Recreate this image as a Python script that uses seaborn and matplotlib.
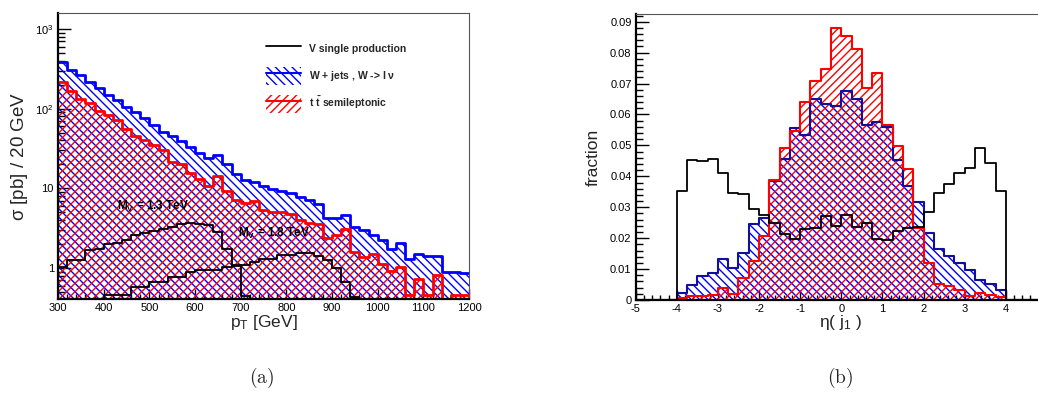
import numpy as np
import seaborn as sns
import matplotlib
matplotlib.use('Agg')
import matplotlib.pyplot as plt
from matplotlib.patches import Patch
from matplotlib.lines import Line2D
from matplotlib.ticker import MultipleLocator, LogLocator, NullFormatter

sns.set_theme(style='white')
plt.rcParams['font.family'] = ['Liberation Sans', 'DejaVu Sans']
plt.rcParams['mathtext.fontset'] = 'custom'
plt.rcParams['mathtext.rm'] = 'Liberation Sans'
plt.rcParams['mathtext.bf'] = 'Liberation Sans:bold'
plt.rcParams['mathtext.default'] = 'regular'
plt.rcParams['hatch.linewidth'] = 1.0

# (a) pT of leading jet, 20 GeV bins from 300 to 1200
pt_edges = np.arange(300, 1201, 20)
pt_wjets = [380, 305, 266, 213, 181, 150, 128, 104, 90, 77, 63, 51, 46, 39, 33,
            28, 24, 26, 20, 15.2, 12.8, 11.9, 10.6, 9.7, 9.4, 8.7, 7.7, 7.1, 6.3, 4.3,
            4.25, 4.7, 3.25, 3.0, 2.6, 2.24, 1.73, 2.05, 1.30, 1.50, 1.43, 1.43, 0.89, 0.90, 0.88]
pt_ttbar = [213, 168, 132, 117, 94, 82, 71, 56, 46, 40.6, 34.5, 30.5, 21.3, 20, 15.5,
            13.2, 10.6, 14.1, 9.25, 7.1, 6.55, 6.9, 5.4, 5.05, 5.05, 4.8, 4.06, 3.7, 3.6, 2.42,
            2.58, 3.05, 1.6, 1.38, 1.5, 1.12, 0.93, 1.04, 0.46, 0.74, 0.46, 0.83, 0, 0.46, 0.46]
pt_v13 = [1.02, 1.28, 1.28, 1.68, 1.76, 2.0, 2.04, 2.28, 2.58, 2.72, 2.93, 3.05, 3.28, 3.62, 3.65,
          3.6, 3.45, 2.84, 1.76, 1.05, 0.45, 0, 0, 0, 0, 0, 0, 0, 0, 0,
          0, 0, 0, 0, 0, 0, 0, 0, 0, 0, 0, 0, 0, 0, 0]
pt_v18 = [0, 0, 0, 0, 0, 0.46, 0.46, 0.46, 0.58, 0.58, 0.67, 0.67, 0.78, 0.78, 0.90,
          0.94, 0.94, 0.94, 1.04, 1.09, 1.09, 1.2, 1.32, 1.32, 1.45, 1.45, 1.55, 1.55, 1.41, 1.26,
          0.99, 0.67, 0.43, 0, 0, 0, 0, 0, 0, 0, 0, 0, 0, 0, 0]

# (b) eta of leading jet, 0.25 bins from -5 to 5
eta_edges = np.arange(-5, 5.001, 0.25)
eta_wjets = [0, 0, 0, 0,
             0.0022, 0.0049, 0.0078, 0.0088, 0.0132, 0.0102, 0.0153, 0.0246, 0.0264, 0.0385,
             0.0456, 0.0556, 0.0534, 0.0650, 0.0633, 0.0626, 0.0677, 0.0649, 0.0566, 0.0577,
             0.0561, 0.0453, 0.0368, 0.0318, 0.0217, 0.0164, 0.0141, 0.0119, 0.0096, 0.0066,
             0.0053, 0.0032,
             0, 0, 0, 0]
eta_ttbar = [0, 0, 0, 0,
             0.0008, 0.0013, 0.0013, 0.0016, 0.0038, 0.0018, 0.0070, 0.0125, 0.0207, 0.0388,
             0.0491, 0.0545, 0.0642, 0.0709, 0.0748, 0.0881, 0.0855, 0.0812, 0.0685, 0.0734,
             0.0566, 0.0499, 0.0423, 0.0232, 0.0121, 0.0052, 0.0045, 0.0033, 0.0012, 0.0024,
             0.0016, 0.0009,
             0, 0, 0, 0]
eta_vsingle = [0, 0, 0, 0,
               0.0354, 0.0453, 0.0450, 0.0456, 0.0412, 0.0345, 0.0343, 0.0294, 0.0275, 0.0250,
               0.0214, 0.0197, 0.0229, 0.0234, 0.0272, 0.0239, 0.0275, 0.0237, 0.0250, 0.0196,
               0.0194, 0.0224, 0.0232, 0.0237, 0.0286, 0.0347, 0.0375, 0.0410, 0.0428, 0.0491,
               0.0442, 0.0351,
               0, 0, 0, 0]

BLUE = '#0000ff'
DARKBLUE = '#10109a'
RED = '#ff0000'


def draw_hist(ax, edges, values, color, hatch=None, lw=1.5, line_color=None):
    centers = (edges[:-1] + edges[1:]) / 2
    bins = list(edges)
    if hatch:
        sns.histplot(x=centers, weights=values, bins=bins, element='step', fill=True,
                     color=color, facecolor='none', edgecolor=color, hatch=hatch,
                     linewidth=0, ax=ax)
    sns.histplot(x=centers, weights=values, bins=bins, element='step', fill=False,
                 color=line_color or color, linewidth=lw, ax=ax)


def style_axes(ax):
    for s in ['left', 'bottom']:
        ax.spines[s].set_linewidth(1.6)
        ax.spines[s].set_color('black')
    for s in ['top', 'right']:
        ax.spines[s].set_linewidth(0.8)
        ax.spines[s].set_color('#555555')
    ax.tick_params(which='both', direction='in', top=False, right=False,
                   bottom=True, left=True, labelsize=8, colors='black', width=1.0)
    ax.tick_params(which='major', length=7, pad=3)
    ax.tick_params(which='minor', length=3.5)
    ax.set_facecolor('white')


fig = plt.figure(figsize=(10.38, 3.99), dpi=100)

# ---------- (a) ----------
ax1 = fig.add_axes([0.0559, 0.2506, 0.3960, 0.7168])
ax1.set_yscale('log', nonpositive='clip')
draw_hist(ax1, pt_edges, pt_wjets, BLUE, hatch='\\\\\\\\', lw=2.0)
draw_hist(ax1, pt_edges, pt_ttbar, RED, hatch='////', lw=2.0)
draw_hist(ax1, pt_edges, pt_v13, 'black', lw=1.3)
draw_hist(ax1, pt_edges, pt_v18, 'black', lw=1.3)
ax1.set_xlim(300, 1200)
ax1.set_ylim(0.41, 1580)
ax1.set_xticks(np.arange(300, 1201, 100))
ax1.xaxis.set_minor_locator(MultipleLocator(20))
ax1.set_yticks([1, 10, 100, 1000])
ax1.set_yticklabels(['1', '10', '$10^{2}$', '$10^{3}$'])
ax1.yaxis.set_minor_locator(LogLocator(base=10, subs=np.arange(2, 10)))
ax1.yaxis.set_minor_formatter(NullFormatter())
style_axes(ax1)
ax1.tick_params(axis='y', which='major', length=9)
ax1.tick_params(axis='y', which='minor', length=5)
ax1.set_xlabel('p$_{T}$ [GeV]', fontsize=12.5, va='top')
ax1.xaxis.set_label_coords(0.5, -0.05)
ax1.set_ylabel(r'$\sigma$ [pb] / 20 GeV', fontsize=13.5)
ax1.yaxis.set_label_coords(-0.068, 0.497)

ax1.text(430, 6.0, r'$\mathbf{M_{V}}$ = 1.3 TeV', fontsize=8.5, fontweight='bold',
         color='black', ha='left', va='center', zorder=10)
ax1.text(694, 2.75, r'$\mathbf{M_{V}}$ = 1.8 TeV', fontsize=8.5, fontweight='bold',
         color='black', ha='left', va='center', zorder=10)

handles = [
    Line2D([], [], color='black', lw=1.3),
    (Patch(facecolor='none', edgecolor=BLUE, hatch='\\\\\\\\', lw=0), Line2D([], [], color=BLUE, lw=1.5)),
    (Patch(facecolor='none', edgecolor=RED, hatch='////', lw=0), Line2D([], [], color=RED, lw=1.5)),
]
labels = ['V single production', r'W + jets , W -> l $\nu$', r'$\mathbf{t\ \bar{t}}$ semileptonic']
leg = ax1.legend(handles, labels, loc='upper left', bbox_to_anchor=(0.506, 0.907),
                 frameon=False, borderpad=0, borderaxespad=0, handlelength=3.4,
                 handleheight=2.3, labelspacing=0.9, handletextpad=0.7,
                 prop={'size': 7.5, 'weight': 'bold'})

# ---------- (b) ----------
ax2 = fig.add_axes([0.6124, 0.2481, 0.3962, 0.7168])
draw_hist(ax2, eta_edges, eta_wjets, BLUE, hatch='\\\\\\\\', lw=1.5, line_color=DARKBLUE)
draw_hist(ax2, eta_edges, eta_ttbar, RED, hatch='////', lw=1.5)
draw_hist(ax2, eta_edges, eta_vsingle, 'black', lw=1.3)
ax2.set_xlim(-5, 5)
ax2.set_ylim(0, 0.0925)
ax2.set_xticks(np.arange(-5, 5, 1))
ax2.set_xticklabels([str(v) for v in range(-5, 5)])
ax2.xaxis.set_minor_locator(MultipleLocator(0.2))
ax2.set_yticks(np.arange(0, 0.0901, 0.01))
ax2.set_yticklabels(['0'] + ['%.2f' % v for v in np.arange(0.01, 0.0901, 0.01)])
ax2.yaxis.set_minor_locator(MultipleLocator(0.002))
style_axes(ax2)
ax2.tick_params(axis='y', which='major', length=9)
ax2.tick_params(axis='y', which='minor', length=5)
ax2.set_xlabel(r'$\eta$( j$_{1}$ )', fontsize=12.5, va='top')
ax2.xaxis.set_label_coords(0.497, -0.045)
ax2.set_ylabel('fraction', fontsize=12.5)
ax2.yaxis.set_label_coords(-0.085, 0.5)

fig.text(262 / 1038, 0.0526, r'$\mathrm{(a)}$', fontsize=14, ha='center', va='center',
         math_fontfamily='cm')
fig.text(840 / 1038, 0.0526, r'$\mathrm{(b)}$', fontsize=14, ha='center', va='center',
         math_fontfamily='cm')

fig.savefig('out.png', dpi=100, facecolor='white')
